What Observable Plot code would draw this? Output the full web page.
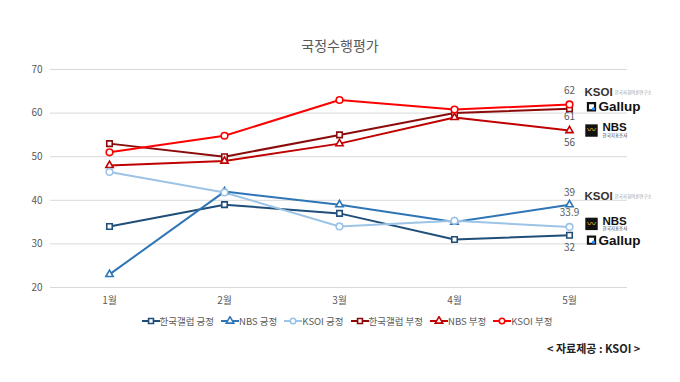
<!DOCTYPE html>
<html>
<head>
<meta charset="utf-8">
<script src="https://cdn.jsdelivr.net/npm/d3@7"></script>
<script src="https://cdn.jsdelivr.net/npm/@observablehq/plot@0.6"></script>
<style>
  html, body { margin: 0; padding: 0; background: #fff; }
  #wrap { position: relative; width: 680px; height: 382px; font-family: "Noto Sans CJK KR", "Noto Sans", sans-serif; overflow: hidden; }
  #title { position: absolute; top: 35px; left: 0; width: 680px; text-align: center; font-size: 14px; color: #595959; }
  #chart { position: absolute; top: 0; left: 0; }
  #legend { position: absolute; top: 314px; left: 0; width: 680px; display: flex; justify-content: center; gap: 7px; font-size: 9.5px; color: #595959; padding-left: 14px; box-sizing: border-box; }
  #legend .item { display: flex; align-items: center; gap: 0px; }
  #source { position: absolute; top: 340px; left: 547px; font-size: 11px; font-weight: bold; color: #222; }
</style>
</head>
<body>
<div id="wrap">
  <div id="chart"></div>
  <div id="title">국정수행평가</div>
  <div id="legend"></div>
  <div id="source">&lt; 자료제공 : KSOI &gt;</div>
</div>
<script>
const months = ["1월", "2월", "3월", "4월", "5월"];
const seriesNames = ["한국갤럽 긍정", "NBS 긍정", "KSOI 긍정", "한국갤럽 부정", "NBS 부정", "KSOI 부정"];
const gallupPos = [34, 39, 37, 31, 32];
const nbsPos = [23, 42, 39, 35, 39];
const ksoiPos = [46.5, 41.8, 34, 35.3, 33.9];
const gallupNeg = [53, 50, 55, 60, 61];
const nbsNeg = [48, 49, 53, 59, 56];
const ksoiNeg = [51, 54.8, 63, 60.8, 62];
const yTicks = [20, 30, 40, 50, 60, 70];
const lastLabels = ["32", "39", "33.9", "61", "56", "62"];
const sourceText = "< 자료제공 : KSOI >";

const seriesValues = [gallupPos, nbsPos, ksoiPos, gallupNeg, nbsNeg, ksoiNeg];
const colors = ["#1f4e79", "#2e75b6", "#9dc3e6", "#8b0a0a", "#c00000", "#ff0000"];
const symbols = ["square", "triangle", "circle", "square", "triangle", "circle"];
const symbolR = {square: 3.1, triangle: 2.7, circle: 3.3};
const labelDy = [13, -12, -14, 8, 12, -14];

const rows = [];
seriesNames.forEach((s, i) => months.forEach((m, j) => rows.push({series: s, sym: symbols[i], month: m, value: seriesValues[i][j]})));
const lastRows = seriesNames.map((s, i) => ({series: s, month: months[months.length - 1], value: seriesValues[i][months.length - 1], label: lastLabels[i], dy: labelDy[i]}));

const last = months[months.length - 1];
const ksoiN = ksoiNeg[4], gallupN = gallupNeg[4], nbsN = nbsNeg[4];
const ksoiP = ksoiPos[4], gallupP = gallupPos[4], nbsP = nbsPos[4];

const logoDefs = [{v: ksoiN, dy: -12}, {v: nbsP, dy: -8}];
const gallupDefs = [{v: gallupN, dy: -2}, {v: gallupP, dy: 5}];
const nbsDefs = [{v: nbsN, dy: 0}, {v: ksoiP, dy: -3}];

const marks = [
  Plot.gridY(yTicks, {stroke: "#d9d9d9", strokeOpacity: 1}),
  Plot.axisY({ticks: yTicks, tickSize: 0, tickPadding: 8, fontSize: 10, color: "#595959", label: null}),
  Plot.axisX({tickSize: 0, tickPadding: 9, fontSize: 10, color: "#595959", label: null}),
  Plot.line(rows, {x: "month", y: "value", z: "series", stroke: "series", strokeWidth: 2}),
  ...Object.keys(symbolR).map(k => Plot.dot(rows.filter(d => d.sym === k), {x: "month", y: "value", stroke: "series", symbol: "series", fill: "white", strokeWidth: 1.6, r: symbolR[k]})),
  ...lastRows.map(d => Plot.text([d], {x: "month", y: "value", text: "label", dy: d.dy, fill: "#595959", fontSize: 10})),
  // KSOI logos
  ...logoDefs.map(d => Plot.text([d], {x: () => last, y: "v", text: () => "KSOI", dx: 15, dy: d.dy, textAnchor: "start", fontSize: 11.5, fontWeight: "bold", fill: "#333", fontFamily: "Arial, Liberation Sans, sans-serif"})),
  ...logoDefs.map(d => Plot.text([d], {x: () => last, y: "v", text: () => "한국사회여론연구소", dx: 45, dy: d.dy, textAnchor: "start", fontSize: 4.5, fill: "#999"})),
  // Gallup logos
  ...gallupDefs.map(d => Plot.dot([d], {x: () => last, y: "v", symbol: "square", r: 4, dx: 22, dy: d.dy, stroke: "#111", strokeWidth: 2.2, fill: "none"})),
  ...gallupDefs.map(d => Plot.dot([d], {x: () => last, y: "v", r: 1.6, dx: 24, dy: d.dy + 2, fill: "#1e90ff"})),
  ...gallupDefs.map(d => Plot.text([d], {x: () => last, y: "v", text: () => "Gallup", dx: 29, dy: d.dy, textAnchor: "start", fontSize: 13.5, fontWeight: "bold", fill: "#111", fontFamily: "Arial, Liberation Sans, sans-serif"})),
  // NBS logos
  ...nbsDefs.map(d => Plot.dot([d], {x: () => last, y: "v", symbol: "square", r: 7, dx: 22, dy: d.dy, fill: "#111", stroke: "none"})),
  ...nbsDefs.map(d => Plot.text([d], {x: () => last, y: "v", text: () => "〰", dx: 22, dy: d.dy, fontSize: 9, fill: "#f0c020"})),
  ...nbsDefs.map(d => Plot.text([d], {x: () => last, y: "v", text: () => "NBS", dx: 33, dy: d.dy - 3, textAnchor: "start", fontSize: 11.5, fontWeight: "bold", fill: "#111", fontFamily: "Arial Black, Liberation Sans, sans-serif"})),
  ...nbsDefs.map(d => Plot.text([d], {x: () => last, y: "v", text: () => "한국지표조사", dx: 33, dy: d.dy + 5, textAnchor: "start", fontSize: 4.5, fill: "#333"}))
];

const chart = Plot.plot({
  width: 680,
  height: 320,
  marginTop: 69,
  marginBottom: 33,
  marginLeft: 50,
  marginRight: 53,
  style: {fontFamily: '"Noto Sans CJK KR", "Noto Sans", sans-serif', background: "white", overflow: "visible"},
  x: {type: "point", domain: months, padding: 0.5},
  y: {domain: [20, 70]},
  color: {domain: seriesNames, range: colors},
  symbol: {domain: seriesNames, range: symbols},
  marks
});
document.getElementById("chart").appendChild(chart);

// legend
const legend = document.getElementById("legend");
seriesNames.forEach((s, i) => {
  const item = document.createElement("div");
  item.className = "item";
  const sym = d3.symbol().type({square: d3.symbolSquare, triangle: d3.symbolTriangle, circle: d3.symbolCircle}[symbols[i]]).size(24)();
  item.innerHTML = `<svg width="18" height="10"><line x1="0" x2="18" y1="5" y2="5" stroke="${colors[i]}" stroke-width="2"/><path d="${sym}" transform="translate(9,5)" fill="white" stroke="${colors[i]}" stroke-width="1.6"/></svg><span>${s}</span>`;
  legend.appendChild(item);
});
document.getElementById("source").textContent = sourceText;
</script>
</body>
</html>
